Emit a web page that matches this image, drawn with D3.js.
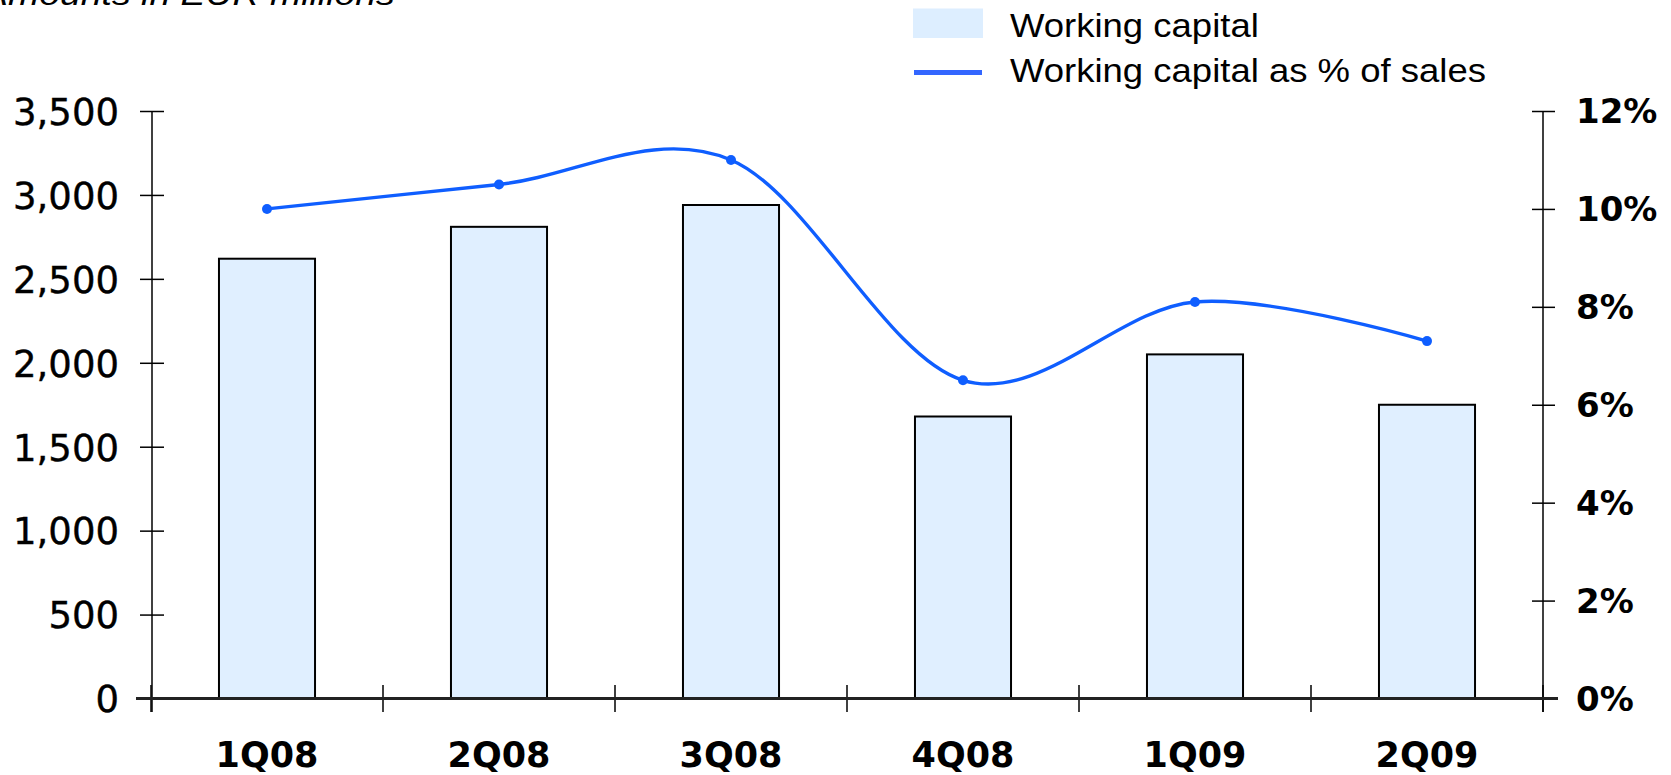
<!DOCTYPE html>
<html>
<head>
<meta charset="utf-8">
<script src="https://cdn.jsdelivr.net/npm/d3@7"></script>
<style>
  html, body { margin: 0; padding: 0; background: #fff; overflow: hidden; }
  svg { display: block; }
</style>
</head>
<body>
<svg id="chart" width="1671" height="775"></svg>
<script>
// ---- data ----
const categories = ["1Q08", "2Q08", "3Q08", "4Q08", "1Q09", "2Q09"];
const workingCapital = [2620, 2810, 2940, 1680, 2050, 1750];
const wcPctOfSales = [10.0, 10.5, 11.0, 6.5, 8.1, 7.3];
const leftTicks = [0, 500, 1000, 1500, 2000, 2500, 3000, 3500];
const rightTicks = [0, 2, 4, 6, 8, 10, 12];
const legendLabels = ["Working capital", "Working capital as % of sales"];
const subtitle = "Amounts in EUR millions";

// ---- layout ----
const plotLeft = 151, plotRight = 1543, plotTop = 111, plotBottom = 698.5;
const barColor = "#E0EFFF";
const lineColor = "#0F5EFF";

const svg = d3.select("#chart");

const x = d3.scaleBand().domain(categories).range([plotLeft, plotRight]).padding(0);
const yL = d3.scaleLinear().domain([0, 3500]).range([plotBottom, plotTop]);
const yR = d3.scaleLinear().domain([0, 12]).range([plotBottom, plotTop]);
const cx = c => x(c) + x.bandwidth() / 2;
const barW = x.bandwidth() * 0.414;

// subtitle (cut off at top, as in the original)
svg.append("text")
  .attr("transform", "translate(-17,5) scale(1.17,1)")
  .attr("font-family", "Liberation Sans, Arial, sans-serif")
  .attr("font-style", "italic")
  .attr("font-size", 32)
  .attr("fill", "#000")
  .text(subtitle);

// bars
svg.append("g").selectAll("rect")
  .data(categories)
  .join("rect")
  .attr("x", c => cx(c) - barW / 2)
  .attr("y", (c, i) => yL(workingCapital[i]))
  .attr("width", barW)
  .attr("height", (c, i) => yL(0) - yL(workingCapital[i]))
  .attr("fill", barColor)
  .attr("stroke", "#000")
  .attr("stroke-width", 2);

// left axis
const gL = svg.append("g").attr("transform", `translate(${plotLeft + 1},0)`)
  .call(d3.axisLeft(yL).tickValues(leftTicks).tickFormat(d3.format(","))
        .tickSize(12).tickSizeOuter(0).tickPadding(21));
gL.select(".domain").remove();
gL.selectAll(".tick line").attr("x2", -12).attr("x1", 12).attr("stroke", "#000").attr("stroke-width", 1.5);
gL.selectAll(".tick text").attr("font-family", "DejaVu Sans, sans-serif").attr("font-size", 37)
  .attr("fill", "#000").attr("stroke", "#000").attr("stroke-width", 0.4).attr("dy", "0.36em");
gL.append("line").attr("x1", 0).attr("x2", 0).attr("y1", plotTop).attr("y2", 712)
  .attr("stroke", "#000").attr("stroke-width", 1.5);

// right axis
const gR = svg.append("g").attr("transform", `translate(${plotRight},0)`)
  .call(d3.axisRight(yR).tickValues(rightTicks).tickFormat(d => d + "%")
        .tickSize(12).tickSizeOuter(0).tickPadding(21));
gR.select(".domain").remove();
gR.selectAll(".tick line").attr("x1", -11).attr("x2", 12).attr("stroke", "#000").attr("stroke-width", 1.5);
gR.selectAll(".tick text").attr("font-family", "DejaVu Sans, sans-serif").attr("font-weight", "bold")
  .attr("font-size", 34).attr("fill", "#000").attr("dy", "0.34em");
gR.append("line").attr("x1", 0).attr("x2", 0).attr("y1", plotTop).attr("y2", 712)
  .attr("stroke", "#000").attr("stroke-width", 1.5);

// category axis
const boundaries = categories.map(c => x(c)).concat([plotRight]);
svg.append("g").selectAll("line")
  .data(boundaries)
  .join("line")
  .attr("x1", d => d).attr("x2", d => d)
  .attr("y1", 685).attr("y2", 712)
  .attr("stroke", "#000").attr("stroke-width", 1.5);
svg.append("line")
  .attr("x1", 136).attr("x2", 1558)
  .attr("y1", yL(0)).attr("y2", yL(0))
  .attr("stroke", "#222").attr("stroke-width", 3);
svg.append("g").selectAll("text")
  .data(categories)
  .join("text")
  .attr("x", c => cx(c))
  .attr("y", 767)
  .attr("text-anchor", "middle")
  .attr("font-family", "DejaVu Sans, sans-serif")
  .attr("font-weight", "bold")
  .attr("font-size", 35)
  .attr("fill", "#000")
  .text(c => c);

// line series
const line = d3.line()
  .x(d => cx(d.c))
  .y(d => yR(d.v))
  .curve(d3.curveCatmullRom.alpha(0));
const lineData = categories.map((c, i) => ({ c, v: wcPctOfSales[i] }));
svg.append("path")
  .datum(lineData)
  .attr("d", line)
  .attr("fill", "none")
  .attr("stroke", lineColor)
  .attr("stroke-width", 3.4);
svg.append("g").selectAll("circle")
  .data(lineData)
  .join("circle")
  .attr("cx", d => cx(d.c))
  .attr("cy", d => yR(d.v))
  .attr("r", 5)
  .attr("fill", lineColor);

// legend
const lg = svg.append("g");
lg.append("rect").attr("x", 913).attr("y", 8.5).attr("width", 70).attr("height", 29.5).attr("fill", "#DDEEFF");
lg.append("line").attr("x1", 914).attr("x2", 982).attr("y1", 72.5).attr("y2", 72.5)
  .attr("stroke", "#3366FF").attr("stroke-width", 5);
lg.selectAll("text")
  .data(legendLabels)
  .join("text")
  .attr("transform", (d, i) => `translate(1010,${i === 0 ? 37 : 81.5}) scale(1.09,1)`)
  .attr("font-family", "Liberation Sans, Arial, sans-serif")
  .attr("font-size", 33.5)
  .attr("fill", "#000")
  .text(d => d);
</script>
</body>
</html>
